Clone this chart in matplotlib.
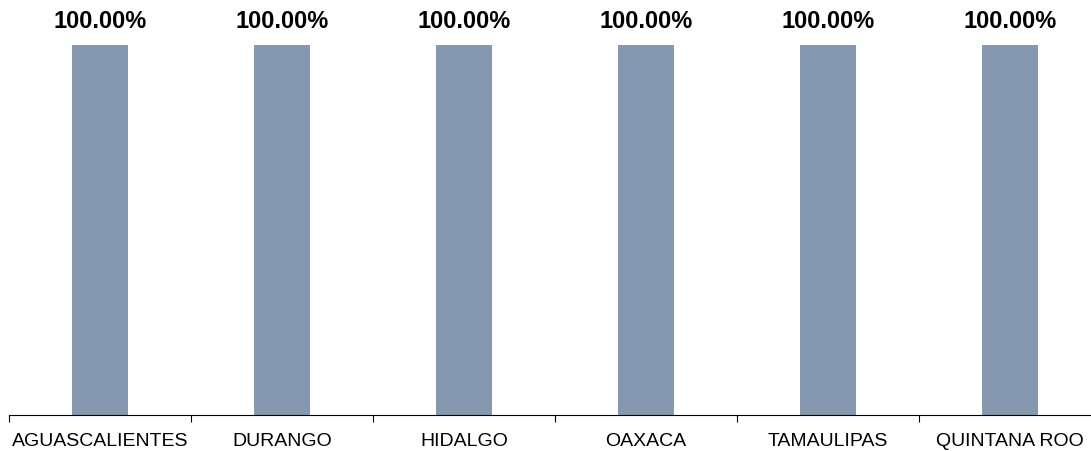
import matplotlib.pyplot as plt
from matplotlib import font_manager
import numpy as np

states = ['AGUASCALIENTES', 'DURANGO', 'HIDALGO', 'OAXACA', 'TAMAULIPAS', 'QUINTANA ROO']
values = [100.0, 100.0, 100.0, 100.0, 100.0, 100.0]

plt.rcParams['font.family'] = ['Liberation Sans', 'DejaVu Sans']

# pick the regular-width Liberation Sans Bold file, not the Narrow one
bold_path = None
for f in font_manager.findSystemFonts():
    if f.endswith('LiberationSans-Bold.ttf'):
        bold_path = f
        break
if bold_path:
    bold_font = font_manager.FontProperties(fname=bold_path, size=17)
else:
    bold_font = font_manager.FontProperties(family='DejaVu Sans', weight='bold', size=15)

W, H = 1091, 451
fig = plt.figure(figsize=(W / 100, H / 100), dpi=100)
# axes spans x 9..1101 px (clipped at the right edge), y 45..415 px
ax = fig.add_axes([9 / W, (H - 415) / H, 1092 / W, 370 / H])

x = np.arange(len(states))
bars = ax.bar(x, values, width=0.31, color='#8598b0')

ax.set_xlim(-0.5, len(states) - 0.5)
ax.set_ylim(0, 100)

for bar, val in zip(bars, values):
    ax.annotate(f'{val:.2f}%', (bar.get_x() + bar.get_width() / 2, val),
                xytext=(0, 17), textcoords='offset points',
                ha='center', va='center', fontproperties=bold_font,
                annotation_clip=False)

ax.set_xticks(x)
ax.set_xticklabels(states, fontsize=14)
ax.tick_params(axis='x', which='major', length=0, pad=13)
ax.set_xticks(np.arange(len(states) + 1) - 0.5, minor=True)
ax.tick_params(axis='x', which='minor', length=5, direction='out', width=0.8)
ax.set_yticks([])

for side in ['top', 'right', 'left']:
    ax.spines[side].set_visible(False)
ax.spines['bottom'].set_linewidth(0.8)

plt.savefig('out.png', dpi=100)
